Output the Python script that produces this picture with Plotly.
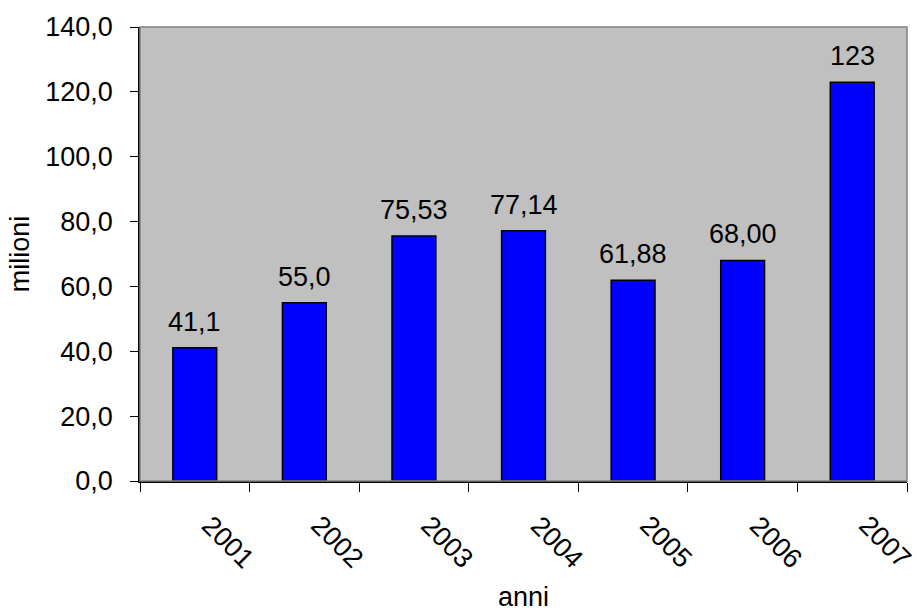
import plotly.graph_objects as go

years = ["2001", "2002", "2003", "2004", "2005", "2006", "2007"]
values = [41.1, 55.0, 75.53, 77.14, 61.88, 68.00, 123]
labels = ["41,1", "55,0", "75,53", "77,14", "61,88", "68,00", "123"]
y_ticks = [0, 20, 40, 60, 80, 100, 120, 140]

FONT = "Liberation Sans, Arial, sans-serif"
TXT = dict(family=FONT, size=27, color="#000000")

fig = go.Figure()
fig.add_trace(go.Bar(
    x=years, y=values, width=0.4,
    marker=dict(color="#0000FF", line=dict(color="#000000", width=1.5)),
    hoverinfo="skip",
))

for i, (v, t) in enumerate(zip(values, labels)):
    fig.add_annotation(x=i, y=v, text=t, showarrow=False, yanchor="bottom",
                       yshift=9, font=TXT)

# rotated category labels
for i, yr in enumerate(years):
    fig.add_annotation(x=i, y=0, text=yr, showarrow=False, textangle=45,
                       xanchor="center", yanchor="middle", xshift=33, yshift=-61,
                       font=TXT)

fig.add_annotation(x=0.5, y=0, xref="paper", yref="paper", text="anni", showarrow=False,
                   yanchor="middle", yshift=-116, font=TXT)

fig.add_shape(type="rect", xref="paper", yref="paper", x0=0, y0=0, x1=1, y1=1,
              line=dict(color="#808080", width=1.5), layer="above")

fig.update_layout(
    width=917, height=613,
    margin=dict(l=140, r=10, t=27, b=132),
    paper_bgcolor="#FFFFFF", plot_bgcolor="#C0C0C0",
    separators=",.",
    showlegend=False,
    font=TXT,
    xaxis=dict(
        type="category", range=[-0.5, len(years) - 0.5],
        tickson="boundaries", ticks="outside", ticklen=9,
        tickcolor="#000000", tickwidth=1, showticklabels=False,
        showline=True, linecolor="#000000", linewidth=1.5,
        showgrid=False, zeroline=False,
    ),
    yaxis=dict(
        range=[0, 140], tickvals=y_ticks, tickformat=".1f",
        ticks="outside", ticklen=8, tickcolor="#000000", tickwidth=1,
        showline=True, linecolor="#000000", linewidth=1.5,
        showgrid=False, zeroline=False, ticklabelstandoff=12,
        tickfont=TXT,
        title=dict(text="milioni", standoff=8, font=TXT),
    ),
)

fig.write_html("out.html")
